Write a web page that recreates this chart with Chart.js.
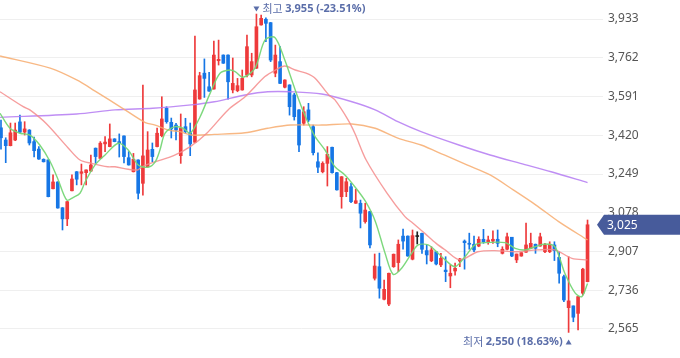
<!DOCTYPE html>
<html><head><meta charset="utf-8">
<script src="https://cdn.jsdelivr.net/npm/chart.js@4.4.1/dist/chart.umd.min.js"></script>
<style>html,body{margin:0;padding:0;background:#fff;}#wrap{width:680px;height:358px;}</style>
</head><body><div id="wrap"><canvas id="c" width="680" height="358"></canvas></div>
<script>
const openP=[3453,3399,3374,3399,3479,3434,3443,3392,3359,3314,
3311,3184,3214,3100,3051,3175,3259,3252,3255,3262,
3363,3318,3382,3370,3404,3392,3417,3321,3259,3311,
3208,3281,3358,3370,3418,3539,3477,3465,3330,3458,
3431,3389,3580,3694,3634,3624,3749,3774,3774,3620,
3617,3620,3686,3686,3716,3907,3932,3917,3694,3745,
3632,3642,3598,3532,3473,3532,3458,3303,3259,3296,
3367,3255,3149,3171,3193,3120,3120,3039,3083,2789,
2840,2696,2675,2840,2858,2975,2975,2873,2973,2987,
2911,2866,2906,2848,2825,2799,2821,2865,2953,2943,
2939,2931,2961,2950,2953,2961,2899,2917,2970,2870,
2887,2904,2921,2939,2931,2906,2906,2936,2881,2796,
2659,2667,2634,2723,2774];
const highP=[3487,3409,3474,3474,3509,3480,3445,3412,3370,3316,
3312,3245,3215,3101,3128,3245,3260,3293,3268,3333,
3364,3392,3414,3470,3405,3426,3418,3348,3340,3312,
3642,3436,3386,3452,3590,3546,3496,3473,3514,3495,
3474,3858,3698,3757,3698,3836,3840,3775,3775,3761,
3671,3708,3862,3782,3955,3950,3938,3918,3818,3811,
3665,3643,3605,3533,3546,3561,3465,3343,3303,3370,
3368,3256,3238,3230,3208,3182,3134,3120,3084,2896,
2900,2781,2812,2896,2958,3006,2976,3002,2994,2988,
2936,2928,2907,2899,2884,2848,2856,2877,2958,2988,
2975,2972,3005,2975,2998,3002,2928,2988,2970,2896,
2902,3032,2988,2940,2988,2943,2950,2950,2906,2803,
2884,2667,2708,2833,3046];
const lowP=[3359,3299,3373,3396,3430,3421,3377,3324,3313,3302,
3148,3183,3098,3002,3021,3174,3201,3201,3201,3261,
3296,3317,3348,3369,3391,3324,3298,3288,3258,3139,
3156,3280,3303,3369,3413,3473,3408,3399,3296,3429,
3330,3388,3579,3587,3614,3623,3730,3737,3579,3607,
3612,3619,3678,3678,3715,3906,3833,3745,3678,3648,
3629,3509,3487,3348,3465,3480,3333,3255,3254,3196,
3253,3178,3098,3149,3122,3119,3011,3032,2923,2781,
2701,2693,2668,2837,2818,2917,2886,2870,2940,2899,
2852,2862,2848,2840,2774,2747,2803,2840,2829,2917,
2906,2928,2943,2939,2943,2928,2896,2914,2884,2858,
2886,2903,2920,2899,2930,2902,2902,2867,2767,2686,
2550,2597,2561,2715,2773];
const closeP=[3409,3374,3431,3443,3434,3448,3386,3352,3315,3303,
3149,3214,3099,3051,3127,3227,3226,3259,3267,3289,
3326,3385,3390,3404,3392,3385,3326,3289,3314,3164,
3329,3355,3326,3429,3492,3480,3448,3443,3451,3436,
3382,3620,3683,3671,3615,3774,3755,3738,3656,3649,
3639,3671,3811,3745,3899,3936,3914,3752,3774,3649,
3664,3546,3502,3377,3524,3487,3343,3279,3296,3336,
3255,3179,3237,3215,3127,3131,3076,3090,2936,2843,
2745,2740,2811,2895,2939,2953,2887,2977,2973,2917,
2892,2914,2852,2877,2818,2811,2833,2874,2946,2939,
2914,2961,2950,2958,2961,2943,2917,2972,2887,2896,
2902,2936,2943,2921,2972,2936,2939,2911,2811,2693,
2689,2617,2708,2829,3025];

const ma5Idx=[-0.2,1.9,4.0,6.1,8.2,10.4,12.1,13.9,15.3,16.7,17.8,19.9,22.0,24.8,26.9,29.0,31.1,32.6,33.6,34.7,36.8,38.5,40.0,42.1,44.2,46.3,48.4,49.5,51.2,53.7,55.8,57.9,60.0,62.2,64.3,66.4,68.5,70.6,72.7,74.8,77.0,79.1,81.2,82.9,84.7,86.8,88.2,90.3,92.1,93.9,96.0,98.1,100.2,102.3,106.6,108.7,110.8,112.9,115.0,117.1,119.2,121.4,122.8,124];
const ma5Val=[3517,3451,3429,3421,3377,3303,3223,3134,3146,3164,3215,3289,3333,3385,3355,3289,3279,3303,3355,3429,3458,3451,3429,3502,3605,3694,3708,3701,3676,3716,3840,3852,3752,3620,3505,3414,3355,3281,3245,3193,3130,3042,2899,2806,2833,2899,2936,2936,2906,2870,2840,2884,2936,2946,2946,2921,2914,2928,2940,2928,2811,2723,2708,2766];
const ma20Idx=[-0.2,4.7,6.1,9.5,14.2,16.7,19.2,22.6,24.1,26.9,28.9,29.8,32.6,36.5,40.0,43.5,48.0,51.6,55.8,58.0,60.0,62.2,64.5,66.4,69.3,70.6,73.4,74.8,77.2,81.6,85.4,87.1,89.6,92.0,93.9,97.0,100.8,104.4,108.7,113.5,117.1,120.7,124];
const ma20Val=[3612,3546,3532,3473,3364,3311,3296,3281,3281,3270,3267,3281,3303,3330,3370,3429,3532,3590,3679,3708,3726,3708,3694,3672,3598,3576,3487,3429,3311,3165,3061,3032,2987,2943,2914,2870,2906,2911,2906,2914,2914,2877,2870];
const ma60Idx=[-0.2,10.4,16.0,19.9,25.7,30.5,32.6,35.4,37.8,40.2,45.1,51.6,56.4,61.3,67.8,74.2,79.1,83.9,88.8,93.7,98.5,103.4,108.3,113.1,117.9,124];
const ma60Val=[3770,3716,3664,3615,3539,3476,3465,3443,3436,3421,3424,3431,3451,3465,3465,3470,3451,3407,3377,3333,3289,3245,3179,3112,3039,2958];
const ma120Idx=[-0.2,16.0,24.1,32.1,40.2,45.1,51.6,56.4,61.3,67.8,74.2,79.1,83.9,88.8,96.8,103.4,109.8,116.3,124];
const ma120Val=[3499,3514,3532,3539,3554,3568,3598,3612,3612,3602,3568,3532,3480,3436,3377,3333,3296,3259,3211];

const yTicks=[2565,2736,2907,3078,3249,3420,3591,3762,3933];
const lastPrice=3025;
const highText=['최고 ','3,955 (-23.51%)'];
const lowText=['최저 ','2,550 (18.63%)'];

const UP='#ee3a3b', DOWN='#1676e5', FLAT='#222222';
const candleColors=openP.map((o,i)=>closeP[i]>o?UP:(closeP[i]<o?DOWN:FLAT));
const wickData=lowP.map((l,i)=>({x:i,y:[l,highP[i]]}));
const bodyData=openP.map((o,i)=>({x:i,y:[o,closeP[i]]}));
const pts=(idx,val)=>idx.map((x,k)=>({x:x,y:val[k]}));
const FONT='"Noto Sans","Noto Sans CJK KR",sans-serif';

const annot={id:'annot',afterDraw(chart){
  const ctx=chart.ctx, xs=chart.scales.x, ys=chart.scales.y;
  ctx.save();
  const labelColor='#5b6ea9';
  const hi=highP.indexOf(Math.max(...highP));
  const hx=xs.getPixelForValue(hi), hy=ys.getPixelForValue(highP[hi])-5;
  ctx.fillStyle=labelColor;
  ctx.beginPath();ctx.moveTo(hx-3,hy-2.5);ctx.lineTo(hx+3,hy-2.5);ctx.lineTo(hx,hy+2.5);ctx.closePath();ctx.fill();
  ctx.textBaseline='middle';ctx.textAlign='left';
  ctx.font='11px "Noto Sans CJK KR"';
  let tx=hx+6; ctx.fillText(highText[0],tx,hy); tx+=ctx.measureText(highText[0]).width;
  ctx.font='bold 11px '+FONT; ctx.fillText(highText[1],tx,hy);
  const lo=lowP.indexOf(Math.min(...lowP));
  const lx=xs.getPixelForValue(lo), ly=ys.getPixelForValue(lowP[lo])+9.5;
  ctx.beginPath();ctx.moveTo(lx-3,ly+2.5);ctx.lineTo(lx+3,ly+2.5);ctx.lineTo(lx,ly-2.5);ctx.closePath();ctx.fill();
  ctx.font='bold 11px '+FONT; const w1=ctx.measureText(lowText[1]).width;
  ctx.textAlign='right'; ctx.fillText(lowText[1],lx-6,ly);
  ctx.font='11px "Noto Sans CJK KR"'; ctx.fillText(lowText[0],lx-6-w1,ly);
  const ty=ys.getPixelForValue(lastPrice), L=597, R=680;
  ctx.fillStyle='#475b9b';
  ctx.beginPath();ctx.moveTo(L,ty);ctx.lineTo(L+7,ty-10);ctx.lineTo(R,ty-10);ctx.lineTo(R,ty+10);ctx.lineTo(L+7,ty+10);ctx.closePath();ctx.fill();
  ctx.fillStyle='#ffffff';ctx.textAlign='left';ctx.font='12px '+FONT;
  ctx.fillText(lastPrice.toLocaleString('en-US'),607,ty+0.5);
  ctx.restore();
}};

new Chart(document.getElementById('c'),{
  type:'bar',
  data:{datasets:[
    {type:'line',data:pts(ma5Idx,ma5Val),borderColor:'rgba(118,214,118,0.95)',borderWidth:1.4,pointRadius:0,tension:0.3,order:0},
    {type:'line',data:pts(ma20Idx,ma20Val),borderColor:'rgba(245,140,140,0.85)',borderWidth:1.4,pointRadius:0,tension:0.3,order:0},
    {type:'line',data:pts(ma60Idx,ma60Val),borderColor:'rgba(247,172,110,0.85)',borderWidth:1.4,pointRadius:0,tension:0.3,order:0},
    {type:'line',data:pts(ma120Idx,ma120Val),borderColor:'rgba(180,122,242,0.85)',borderWidth:1.4,pointRadius:0,tension:0.3,order:0},
    {type:'bar',data:bodyData,backgroundColor:candleColors,barThickness:3,minBarLength:1,grouped:false,order:1},
    {type:'bar',data:wickData,backgroundColor:candleColors,barThickness:1,grouped:false,order:2}
  ]},
  options:{
    responsive:false,animation:false,events:[],
    layout:{padding:0},
    plugins:{legend:{display:false},tooltip:{enabled:false}},
    scales:{
      x:{type:'linear',min:-0.2114,max:127.27,offset:false,bounds:'ticks',display:false,grid:{offset:false}},
      y:{position:'right',min:2437,max:4017,
        afterBuildTicks:s=>{s.ticks=yTicks.map(v=>({value:v}));},
        afterFit:s=>{s.width=77;s.paddingTop=0;s.paddingBottom=0;},
        grid:{color:'#efefef',drawTicks:false},
        border:{display:false},
        ticks:{padding:5,color:'#555555',font:{size:12,family:FONT},callback:v=>Number(v).toLocaleString('en-US')}
      }
    }
  },
  plugins:[annot]
});
</script></body></html>
